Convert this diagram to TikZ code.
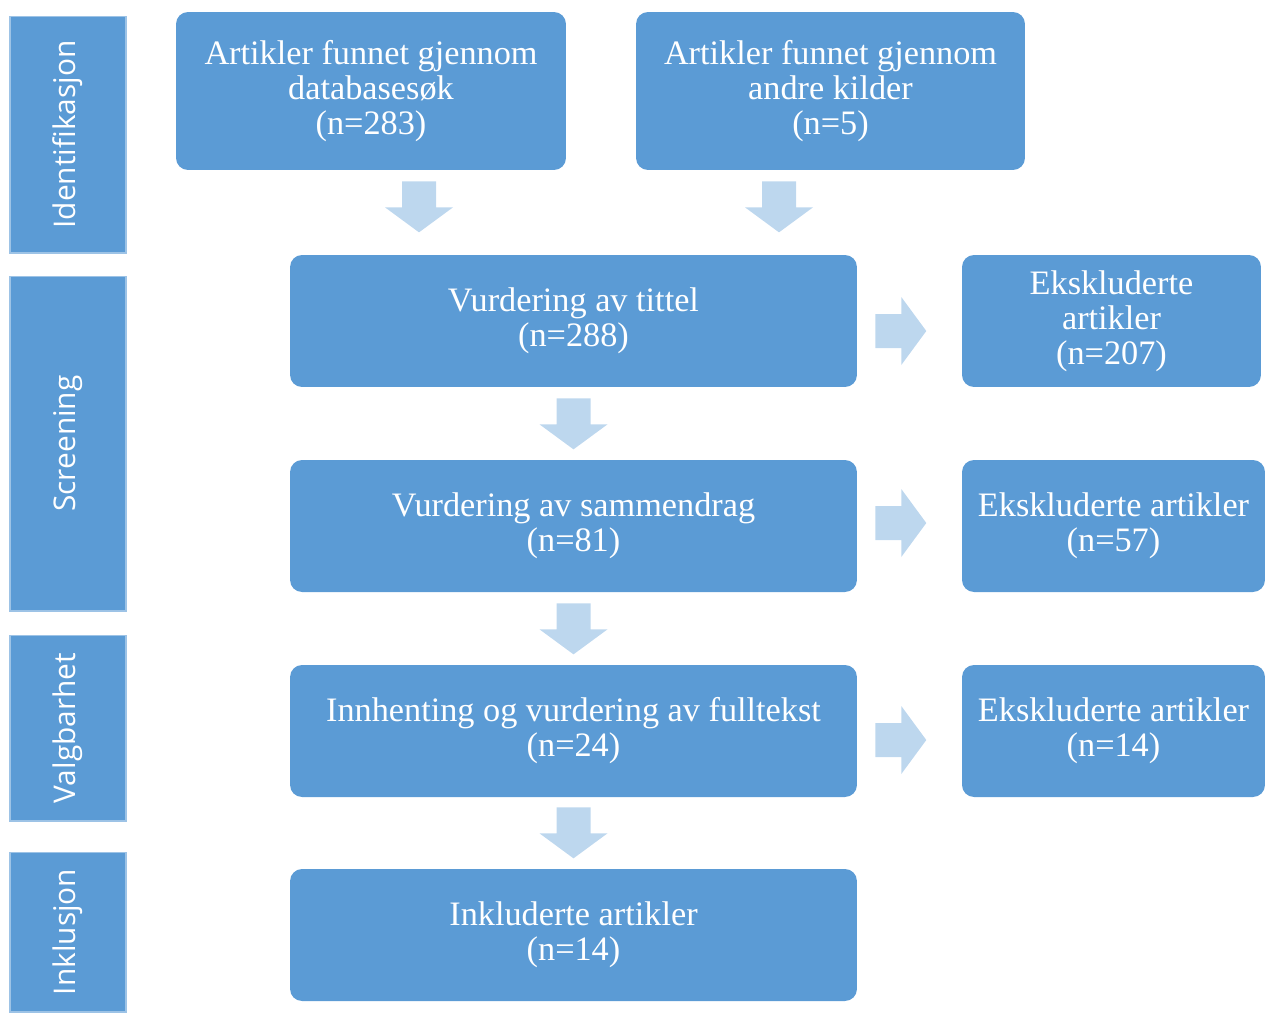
\documentclass[tikz,border=0pt]{standalone}
\usepackage{fontspec}
\setmainfont{Liberation Serif}
\newfontfamily\barfont{Open Sans}
\usetikzlibrary{calc}

\definecolor{boxblue}{HTML}{5B9BD5}
\definecolor{arrowblue}{HTML}{BDD7EE}
\definecolor{barline}{HTML}{9DC3E6}

\tikzset{
  stage/.style={fill=boxblue, text=white, rounded corners=0.24cm, align=center,
    font=\fontsize{19.5}{20}\selectfont, inner sep=0pt, minimum height=2.64cm},
  phase/.style={fill=boxblue, draw=barline, line width=0.6pt, text=white, rotate=90,
    font=\barfont\fontsize{17}{20}\selectfont, inner sep=0pt, minimum height=2.32cm},
  flow/.style={fill=arrowblue},
}

% block arrows, given their top centre / left centre
\newcommand\flowdown[1]{\fill[flow, shift={(#1)}] (-17,0) -- (17,0) -- (17,26) -- (34,26) -- (0,51) -- (-34,26) -- (-17,26) -- cycle;}
\newcommand\flowright[1]{\fill[flow, shift={(#1)}] (0,-17) -- (26,-17) -- (26,-34) -- (51,0) -- (26,34) -- (26,17) -- (0,17) -- cycle;}

\begin{document}
\begin{tikzpicture}[x=0.02cm, y=-0.02cm]
  \useasboundingbox (0,0) rectangle (1268,1012);

  % phases on the left
  \node[phase, minimum width=4.74cm] (ident) at (68,134.5) {Identifikasjon};
  \node[phase, minimum width=6.7cm]  (screen) at (68,443.5) {Screening};
  \node[phase, minimum width=3.72cm] (valg) at (68,728) {Valgbarhet};
  \node[phase, minimum width=3.2cm]  (inkl) at (68,932) {Inklusjon};

  % boxes
  \node[stage, minimum width=7.8cm, minimum height=3.16cm] (dbsok) at (371,91)
    {Artikler funnet gjennom\\databasesøk\\(n=283)};
  \node[stage, minimum width=7.78cm, minimum height=3.16cm] (andre) at (830.5,91)
    {Artikler funnet gjennom\\andre kilder\\(n=5)};
  \node[stage, minimum width=11.34cm] (tittel) at (573.5,321) {Vurdering av tittel\\(n=288)};
  \node[stage, minimum width=5.98cm]  (eks1) at (1111.5,321) {Ekskluderte\\artikler\\(n=207)};
  \node[stage, minimum width=11.34cm] (samm) at (573.5,526) {Vurdering av sammendrag\\(n=81)};
  \node[stage, minimum width=6.06cm]  (eks2) at (1113.5,526) {Ekskluderte artikler\\(n=57)};
  \node[stage, minimum width=11.34cm] (full) at (573.5,731) {Innhenting og vurdering av fulltekst\\(n=24)};
  \node[stage, minimum width=6.06cm]  (eks3) at (1113.5,731) {Ekskluderte artikler\\(n=14)};
  \node[stage, minimum width=11.34cm] (inkluderte) at (573.5,935) {Inkluderte artikler\\(n=14)};

  % arrows
  \coordinate (d1) at ($(dbsok.south)+(48,11)$);
  \coordinate (d2) at ($(andre.south)+(-51.5,11)$);
  \coordinate (d3) at ($(tittel.south)+(0,11)$);
  \coordinate (d4) at ($(samm.south)+(0,11)$);
  \coordinate (d5) at ($(full.south)+(0,10)$);
  \coordinate (r1) at ($(tittel.east)+(18,10)$);
  \coordinate (r2) at ($(samm.east)+(18,-3)$);
  \coordinate (r3) at ($(full.east)+(18,9)$);
  \flowdown{d1} \flowdown{d2} \flowdown{d3} \flowdown{d4} \flowdown{d5}
  \flowright{r1} \flowright{r2} \flowright{r3}
\end{tikzpicture}
\end{document}
